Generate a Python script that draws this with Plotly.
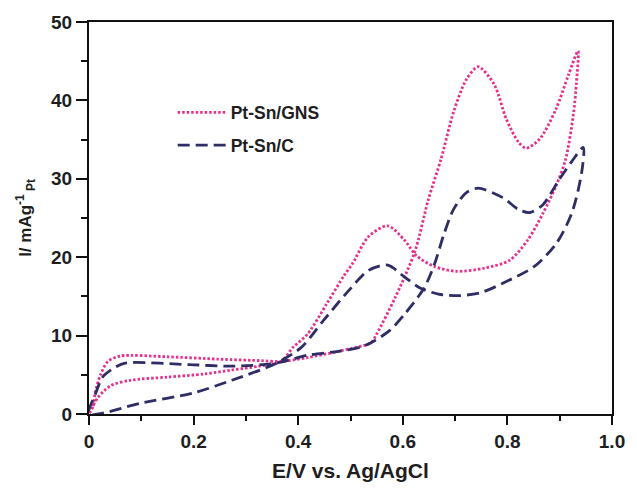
import plotly.graph_objects as go

# ---- data (E in V vs Ag/AgCl, I in mA per mg Pt) ----
E_GNS = [0.000, 0.008, 0.012, 0.022, 0.036, 0.060, 0.149, 0.246, 0.330, 0.367,
         0.418, 0.477, 0.539, 0.550, 0.585, 0.623, 0.649, 0.673, 0.697, 0.721,
         0.744, 0.775, 0.798, 0.821, 0.836, 0.862, 0.893, 0.917, 0.935,
         0.932, 0.926, 0.911, 0.893, 0.868, 0.839, 0.804, 0.756, 0.702, 0.661,
         0.626, 0.603, 0.571, 0.534, 0.504, 0.488, 0.454, 0.418, 0.390, 0.367,
         0.325, 0.272, 0.220, 0.149, 0.079, 0.041, 0.017, 0.000]
I_GNS = [0.0, 1.0, 2.8, 5.0, 6.7, 7.4, 7.3, 7.0, 6.8, 6.7,
         7.2, 8.0, 9.1, 10.2, 14.8, 20.7, 27.4, 32.5, 38.5, 42.6,
         44.3, 42.0, 37.6, 34.7, 33.9, 35.1, 38.9, 43.3, 46.3,
         42.3, 38.1, 32.4, 29.1, 25.6, 22.2, 19.6, 18.6, 18.2, 18.8,
         20.2, 22.2, 24.0, 22.6, 19.2, 17.7, 14.0, 10.2, 8.5, 6.7,
         6.1, 5.6, 5.1, 4.7, 4.3, 3.6, 2.1, 0.0]

E_C = [0.000, 0.012, 0.027, 0.051, 0.069, 0.192, 0.273, 0.359, 0.418, 0.477,
       0.527, 0.574, 0.603, 0.641, 0.661, 0.679, 0.697, 0.721, 0.744, 0.791,
       0.821, 0.843, 0.868, 0.899, 0.923, 0.945,
       0.942, 0.923, 0.893, 0.851, 0.798, 0.750, 0.708, 0.668, 0.632, 0.603,
       0.571, 0.534, 0.496, 0.448, 0.406, 0.359, 0.273, 0.200, 0.100, 0.000]
I_C = [0.0, 2.5, 4.8, 6.0, 6.5, 6.3, 6.1, 6.5, 7.5, 8.0,
       8.7, 10.6, 12.7, 16.1, 19.2, 23.0, 26.1, 28.2, 28.8, 27.6,
       26.1, 25.7, 26.7, 29.9, 32.2, 34.0,
       30.8, 25.6, 21.7, 18.8, 16.9, 15.5, 15.1, 15.3, 16.1, 17.5,
       19.0, 18.3, 15.7, 11.9, 8.5, 6.5, 4.3, 2.7, 1.4, 0.0]

SERIES_NAMES = ["Pt-Sn/GNS", "Pt-Sn/C"]

X_TICKS = [0, 0.2, 0.4, 0.6, 0.8, 1.0]
X_TICK_LABELS = ["0", "0.2", "0.4", "0.6", "0.8", "1.0"]
X_MINOR = [0.1, 0.3, 0.5, 0.7, 0.9]
Y_TICKS = [0, 10, 20, 30, 40, 50]
Y_MINOR = [5, 15, 25, 35, 45]

FONT = "Liberation Sans, Arial, sans-serif"
TXT = "#1e1e1e"

fig = go.Figure()
fig.add_trace(go.Scatter(
    x=E_GNS, y=I_GNS, mode="lines", name=SERIES_NAMES[0], legendgroup="g1",
    line=dict(color="#E6318C", width=2.8, dash="2.5px,2px",
              shape="spline", smoothing=0.8)))
fig.add_trace(go.Scatter(
    x=E_C, y=I_C, mode="lines", name=SERIES_NAMES[1], legendgroup="g2",
    line=dict(color="#2E2D66", width=2.8, dash="12px,6px",
              shape="spline", smoothing=0.8)))

axis_common = dict(showline=True, linewidth=2, linecolor="#111", mirror=True,
                   showgrid=False, zeroline=False, ticks="outside",
                   tickwidth=2, tickcolor="#111")

fig.update_layout(
    width=637, height=491,
    margin=dict(l=89, r=18, t=21, b=75),
    paper_bgcolor="white", plot_bgcolor="white",
    font=dict(family=FONT, color=TXT),
    showlegend=True,
    legend=dict(x=0.16, y=0.815, xanchor="left", yanchor="top",
                bgcolor="rgba(0,0,0,0)", borderwidth=0,
                font=dict(family=FONT, size=17.5, color=TXT, weight=700),
                itemwidth=48, traceorder="grouped", tracegroupgap=7),
    xaxis=dict(range=[0, 1.0], tickvals=X_TICKS, ticktext=X_TICK_LABELS,
               ticklen=9,
               minor=dict(tickvals=X_MINOR, ticklen=5, tickwidth=2,
                          ticks="outside", tickcolor="#111"),
               tickfont=dict(family=FONT, size=19, color=TXT, weight=700),
               title=dict(text="E/V vs. Ag/AgCl", standoff=13,
                          font=dict(family=FONT, size=21, color=TXT, weight=700)),
               **axis_common),
    yaxis=dict(range=[0, 50], tickvals=Y_TICKS, ticklen=11,
               minor=dict(tickvals=Y_MINOR, ticklen=6, tickwidth=2,
                          ticks="outside", tickcolor="#111"),
               tickfont=dict(family=FONT, size=19, color=TXT, weight=700),
               title=dict(text="I/ mAg<sup>-1</sup><sub> Pt</sub>", standoff=15,
                          font=dict(family=FONT, size=17, color=TXT, weight=700)),
               **axis_common),
)

fig.write_html("out.html")
